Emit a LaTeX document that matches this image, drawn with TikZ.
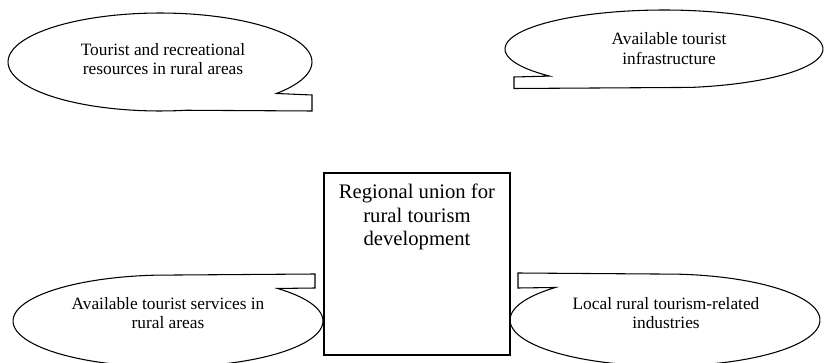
\documentclass[tikz,border=0pt]{standalone}
\usepackage{fontspec}
\setmainfont{Liberation Serif}
\tikzset{
  callout/.style={draw=black, line width=0.8pt, fill=white, line join=miter},
  lbl/.style={align=center, font=\fontsize{13}{14.5}\selectfont, inner sep=0pt},
  unionbox/.style={draw=black, line width=0.8pt, fill=white, inner sep=0pt},
  unionlbl/.style={align=center, font=\fontsize{15.5}{17.5}\selectfont, inner sep=0pt},
}
\begin{document}
\begin{tikzpicture}[x=0.75pt, y=-0.75pt]
\useasboundingbox (0,0) rectangle (825,363);
\clip (0,0) rectangle (825,363);
% top-left callout
\draw[callout] plot[domain=80:400, samples=90, variable=\t] ({160+152*cos(\t)},{62+49*sin(\t)})
  -- (312,95) -- (312,111) -- cycle;
\node[lbl] (tl) at (163,59) {Tourist and recreational\\resources in rural areas};
% top-right callout
\draw[callout] plot[domain=136:440, samples=90, variable=\t] ({664+159*cos(\t)},{49+39*sin(\t)})
  -- (514,88.5) -- (514,77) -- cycle;
\node[lbl] (tr) at (669,48.5) {Available tourist\\infrastructure};
% bottom-left callout
\draw[callout] plot[domain=-45:265, samples=90, variable=\t] ({168+155*cos(\t)},{321+46*sin(\t)})
  -- (315,274) -- (315,288) -- cycle;
\node[lbl] (bl) at (168,313) {Available tourist services in\\rural areas};
% bottom-right callout
\draw[callout] plot[domain=-85:225, samples=90, variable=\t] ({665+155*cos(\t)},{320+46*sin(\t)})
  -- (518,288) -- (518,273) -- cycle;
\node[lbl] (br) at (666,313) {Local rural tourism-related\\industries};
% central box
\node[unionbox, minimum width=139.5pt, minimum height=136.5pt] (union) at (417,264) {};
\node[unionlbl] (unionlabel) at (417,217) {Regional union for\\rural tourism\\development};
\end{tikzpicture}
\end{document}
